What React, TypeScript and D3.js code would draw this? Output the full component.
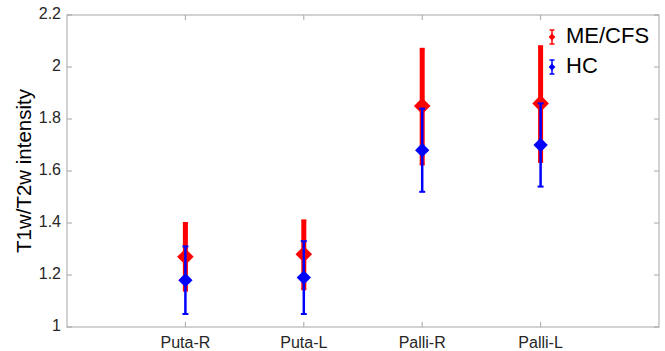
import { useEffect, useRef } from 'react'
import * as d3 from 'd3'

const regions = ['Puta-R', 'Puta-L', 'Palli-R', 'Palli-L']
const groups = ['ME/CFS', 'HC']

// mean, lower, upper
const meCfsMean = [1.27, 1.28, 1.85, 1.86]
const meCfsLow = [1.14, 1.145, 1.625, 1.635]
const meCfsHigh = [1.40, 1.41, 2.07, 2.08]

const hcMean = [1.18, 1.19, 1.68, 1.70]
const hcLow = [1.05, 1.05, 1.52, 1.54]
const hcHigh = [1.31, 1.33, 1.84, 1.86]

const yTicks = [1, 1.2, 1.4, 1.6, 1.8, 2, 2.2]

export default function App() {
  const svgRef = useRef<SVGSVGElement>(null)

  useEffect(() => {
    if (!svgRef.current) return
    const svg = d3.select(svgRef.current)
    svg.selectAll('*').remove()

    const width = 665
    const height = 351
    const margin = { top: 15, right: 6, bottom: 24, left: 67 }
    const innerWidth = width - margin.left - margin.right
    const innerHeight = height - margin.top - margin.bottom

    const g = svg.append('g').attr('transform', `translate(${margin.left},${margin.top})`)

    const x = d3.scaleLinear().domain([0, 5]).range([0, innerWidth])
    const y = d3.scaleLinear().domain([1, 2.2]).range([innerHeight, 0])

    const axisColor = '#a6a6a6'
    const textColor = '#262626'
    const font = 'Liberation Sans, Arial, sans-serif'

    // frame
    g.append('rect')
      .attr('x', 0).attr('y', 0)
      .attr('width', innerWidth).attr('height', innerHeight)
      .attr('fill', 'none')
      .attr('stroke', axisColor)
      .attr('stroke-width', 1)

    // y ticks left and right
    yTicks.forEach(t => {
      g.append('line')
        .attr('x1', 0).attr('x2', 5)
        .attr('y1', y(t)).attr('y2', y(t))
        .attr('stroke', axisColor)
      g.append('line')
        .attr('x1', innerWidth - 5).attr('x2', innerWidth)
        .attr('y1', y(t)).attr('y2', y(t))
        .attr('stroke', axisColor)
      g.append('text')
        .attr('x', -6)
        .attr('y', y(t))
        .attr('text-anchor', 'end')
        .attr('dominant-baseline', 'middle')
        .attr('fill', textColor)
        .attr('font-size', '16px')
        .attr('font-family', font)
        .text(d3.format('~g')(t))
    })

    // x ticks bottom and top
    regions.forEach((r, i) => {
      const cx = x(i + 1)
      g.append('line')
        .attr('x1', cx).attr('x2', cx)
        .attr('y1', innerHeight).attr('y2', innerHeight - 5)
        .attr('stroke', axisColor)
      g.append('line')
        .attr('x1', cx).attr('x2', cx)
        .attr('y1', 0).attr('y2', 5)
        .attr('stroke', axisColor)
      g.append('text')
        .attr('x', cx)
        .attr('y', innerHeight + 21)
        .attr('text-anchor', 'middle')
        .attr('fill', textColor)
        .attr('font-size', '16px')
        .attr('font-family', font)
        .text(r)
    })

    // y label
    svg.append('text')
      .attr('transform', `translate(31,${margin.top + innerHeight / 2}) rotate(-90)`)
      .attr('text-anchor', 'middle')
      .attr('fill', '#000')
      .attr('font-size', '20.5px')
      .attr('font-family', font)
      .text('T1w/T2w intensity')

    const diamond = (size: number) => d3.symbol().type(d3.symbolDiamond2).size(size)()

    const series = [
      { mean: meCfsMean, low: meCfsLow, high: meCfsHigh, color: '#ff0000', barW: 5, capW: 5, mark: 175 },
      { mean: hcMean, low: hcLow, high: hcHigh, color: '#0000ff', barW: 2.5, capW: 6, mark: 130 }
    ]

    series.forEach(s => {
      s.mean.forEach((m, i) => {
        const cx = x(i + 1)
        g.append('line')
          .attr('x1', cx).attr('x2', cx)
          .attr('y1', y(s.low[i])).attr('y2', y(s.high[i]))
          .attr('stroke', s.color)
          .attr('stroke-width', s.barW)
        ;[s.low[i], s.high[i]].forEach(v => {
          g.append('line')
            .attr('x1', cx - s.capW / 2).attr('x2', cx + s.capW / 2)
            .attr('y1', y(v)).attr('y2', y(v))
            .attr('stroke', s.color)
            .attr('stroke-width', 2)
        })
        g.append('path')
          .attr('d', diamond(s.mark))
          .attr('transform', `translate(${cx},${y(m)})`)
          .attr('fill', s.color)
      })
    })

    // legend
    const legend = svg.append('g').attr('transform', 'translate(552,37)')
    groups.forEach((name, i) => {
      const color = i === 0 ? '#ff0000' : '#0000ff'
      const ly = i * 30
      legend.append('line')
        .attr('x1', 0).attr('x2', 0)
        .attr('y1', ly - 7).attr('y2', ly + 7)
        .attr('stroke', color).attr('stroke-width', 1.5)
      ;[-7, 7].forEach(d => {
        legend.append('line')
          .attr('x1', -2.5).attr('x2', 2.5)
          .attr('y1', ly + d).attr('y2', ly + d)
          .attr('stroke', color).attr('stroke-width', 1.5)
      })
      legend.append('path')
        .attr('d', diamond(30))
        .attr('transform', `translate(0,${ly})`)
        .attr('fill', color)
      legend.append('text')
        .attr('x', 14)
        .attr('y', ly)
        .attr('dominant-baseline', 'middle')
        .attr('fill', '#000')
        .attr('font-size', '22px')
        .attr('font-family', font)
        .text(name)
    })
  }, [])

  return (
    <svg
      ref={svgRef}
      width={665}
      height={351}
      style={{ position: 'absolute', left: 0, top: 0, background: '#fff' }}
    />
  )
}
